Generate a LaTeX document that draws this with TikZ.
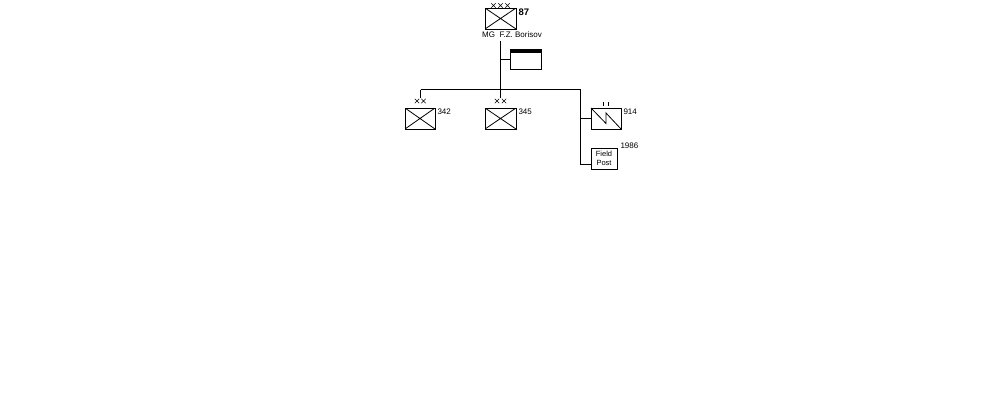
\documentclass[tikz,border=0pt]{standalone}
\usepackage{fontspec}
\setmainfont{Liberation Sans}
\begin{document}
\begin{tikzpicture}[x=1pt,y=-1pt, line width=1pt,
  unitbox/.style={draw, minimum width=#1, minimum height=21pt, inner sep=0pt, outer sep=0pt},
  infbox/.style={unitbox=#1, path picture={\draw[line width=0.8pt]
      (path picture bounding box.north west)--(path picture bounding box.south east)
      (path picture bounding box.south west)--(path picture bounding box.north east);}},
  numlbl/.style={font=\fontsize{8}{9}\selectfont, inner sep=0pt, anchor=west},
  echmark/.style={line width=0.6pt}
]
\useasboundingbox (0,0) rectangle (1000,400);

% corps
\node[infbox=31pt] (corps) at (500.5,18.5) {};
\node[font=\bfseries\fontsize{9.5}{10}\selectfont, inner sep=0pt, anchor=west] (c87) at (518,12.5) {87};
\node[font=\fontsize{8}{9}\selectfont, inner sep=0pt] (cmd) at (512,34.5) {MG\ \ F.Z. Borisov};
\foreach \cx in {493.5,500.5,507.5}{\draw[echmark] (\cx-2.2,3.3) -- (\cx+2.2,7.7) (\cx-2.2,7.7) -- (\cx+2.2,3.3);}

% HQ
\node[unitbox=31pt, minimum height=20pt] (hq) at (525.5,59) {};
\fill (hq.north west) rectangle ([yshift=-4pt]hq.north east);

% divisions
\node[infbox=30pt] (d342) at (420,118.5) {};
\node[numlbl] (l342) at (437,111.5) {342};
\foreach \cx in {417,423.5}{\draw[echmark] (\cx-2.2,98.8) -- (\cx+2.2,103.2) (\cx-2.2,103.2) -- (\cx+2.2,98.8);}

\node[infbox=31pt] (d345) at (500.5,118.5) {};
\node[numlbl] (l345) at (518,111.5) {345};
\foreach \cx in {497,504}{\draw[echmark] (\cx-2.2,98.8) -- (\cx+2.2,103.2) (\cx-2.2,103.2) -- (\cx+2.2,98.8);}

% signal battalion
\node[unitbox=30pt] (sig) at (606,118.5) {};
\draw[line width=0.8pt] (sig.north west) -- ([yshift=5.5pt]sig.south) -- ([yshift=5.5pt]sig.center) -- (sig.south east);
\node[numlbl] (l914) at (623,112) {914};
\draw[echmark] (603.5,101.5) -- (603.5,106) (608,101.5) -- (608,106);

% field post
\node[unitbox=26pt, font=\fontsize{7.5}{8.5}\selectfont, align=center] (fp) at (604,158.5) {Field\\Post};
\node[numlbl] (l1986) at (620,146) {1986};

% connectors
\coordinate (jC) at (500.5,89.5);
\coordinate (jL) at (420.5,89.5);
\coordinate (jR) at (580.5,89.5);
\coordinate (jHQ) at (500.5,59);
\coordinate (jFP) at (580.5,164);
\draw ([yshift=-3pt]cmd.south -| corps.south) -- ([yshift=10pt]d345.north);
\draw (jHQ) -- (hq.west);
\draw (jL) -- (jR);
\draw (jL) -- ([yshift=10pt]d342.north -| jL);
\draw (jR) -- (jFP) -- (fp.west |- jFP);
\draw (sig.west -| jR) -- (sig.west);
\end{tikzpicture}
\end{document}
